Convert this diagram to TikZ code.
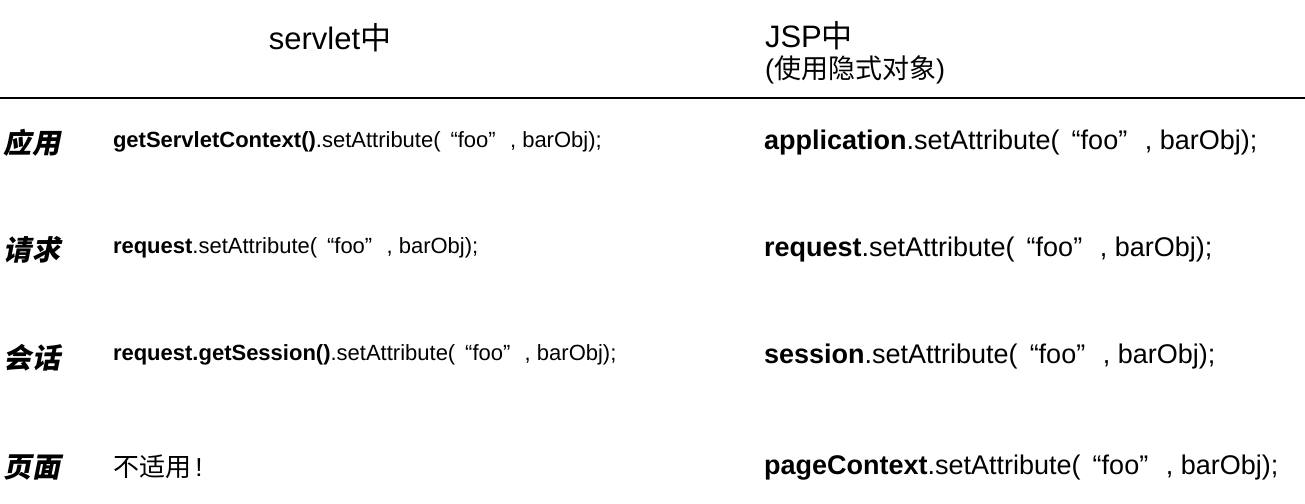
\documentclass[tikz,border=0pt]{standalone}
\usepackage{fontspec}
\setmainfont{Liberation Sans}
\newfontfamily\cjk{Noto Sans CJK SC}
\newfontfamily\cjkit[FakeSlant=0.2]{Noto Sans CJK SC}
\newcommand{\qfoo}{\hspace{0.45em}“foo”\hspace{0.65em}}
\begin{document}
\begin{tikzpicture}[x=1pt,y=-1pt,
  every node/.style={inner sep=0pt,outer sep=0pt},
  head/.style={font=\fontsize{31}{33}\selectfont},
  sub/.style={font=\fontsize{27}{29}\selectfont},
  rowlab/.style={anchor=west,font=\fontsize{28}{30}\selectfont\cjkit\bfseries},
  lcode/.style={anchor=west,font=\fontsize{22}{24}\selectfont},
  rcode/.style={anchor=west,font=\fontsize{27}{29}\selectfont}]
\useasboundingbox (0,0) rectangle (1305,503);
\node[head] (h1) at (330,38) {servlet{\cjk 中}};
\node[head,anchor=west] (h2) at (765,36) {JSP{\cjk 中}};
\node[sub,anchor=west] (h3) at (765,70) {({\cjk 使用隐式对象})};
\coordinate (r0) at (0,98);
\coordinate (r1) at (1305,98);
\draw[line width=2pt] (r0) -- (r1);
\node[rowlab] (l1) at (4,143) {应用};
\node[rowlab] (l2) at (4,250) {请求};
\node[rowlab] (l3) at (4,358) {会话};
\node[rowlab] (l4) at (4,467) {页面};
\node[lcode] (a1) at (113,142) {\textbf{getServletContext()}.setAttribute(\qfoo, barObj);};
\node[lcode] (a2) at (113,248) {\textbf{request}.setAttribute(\qfoo, barObj);};
\node[lcode] (a3) at (113,355) {\textbf{request.getSession()}.setAttribute(\qfoo, barObj);};
\node[anchor=west,font=\fontsize{26}{28}\selectfont] (a4) at (113,467) {{\cjk 不适用}\,!};
\node[rcode] (b1) at (764,143) {\textbf{application}.setAttribute(\qfoo, barObj);};
\node[rcode] (b2) at (764,250) {\textbf{request}.setAttribute(\qfoo, barObj);};
\node[rcode] (b3) at (764,357) {\textbf{session}.setAttribute(\qfoo, barObj);};
\node[rcode] (b4) at (764,468) {\textbf{pageContext}.setAttribute(\qfoo, barObj);};
\end{tikzpicture}
\end{document}
